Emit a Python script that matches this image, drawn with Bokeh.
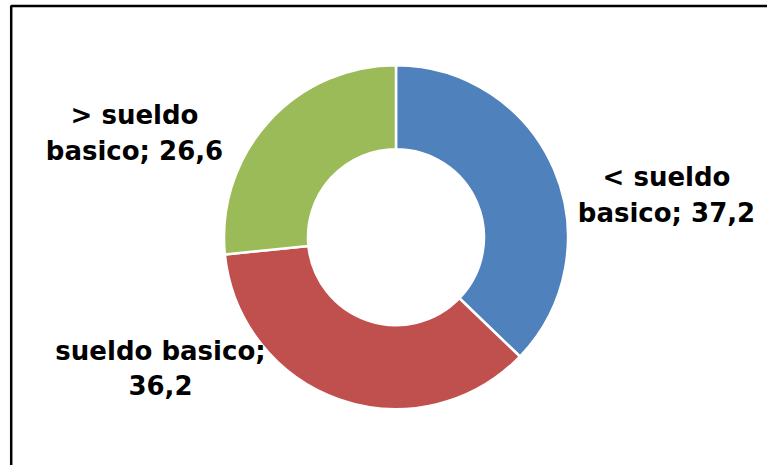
import numpy as np
from bokeh.plotting import figure
from bokeh.models import ColumnDataSource, Range1d
from bokeh.core.properties import value
from bokeh.embed import file_html
from bokeh.resources import INLINE

# ---- data ----
categories = ["< sueldo basico", "sueldo basico", "> sueldo basico"]
values = [37.2, 36.2, 26.6]
value_labels = ["37,2", "36,2", "26,6"]
colors = ["#4F81BD", "#C0504D", "#9BBB59"]

W, H = 767, 465
p = figure(width=W, height=H, output_backend="svg", toolbar_location=None,
           x_range=Range1d(0, W), y_range=Range1d(0, H),
           min_border=0, outline_line_color=None)
p.axis.visible = False
p.grid.visible = False
p.background_fill_color = "white"
p.border_fill_color = "white"

# chart border (only left and top edges are within view)
p.line(x=[10.7, 10.7, W], y=[0, H - 5.5, H - 5.5], line_color="black", line_width=2.5)

# donut
v = np.array(values)
frac = v / v.sum()
ends = np.pi / 2 - 2 * np.pi * np.cumsum(frac)
starts = np.concatenate([[np.pi / 2], ends[:-1]])
cx, cy = 395.5, H - 236.7
src = ColumnDataSource(dict(start=starts, end=ends, color=colors,
                            x=[cx] * 3, y=[cy] * 3))
p.annular_wedge(x="x", y="y", inner_radius=88, outer_radius=172,
                start_angle="end", end_angle="start", direction="anticlock",
                fill_color="color", line_color="white", line_width=2.5, source=src)

# labels (two lines each)
lines = []
for cat, vl in zip(categories, value_labels):
    if cat == "sueldo basico":
        lines.append(("sueldo basico;", vl))
    else:
        sym, rest = cat.split(" ", 1)
        w1, w2 = rest.split(" ")
        lines.append((f"{sym} {w1}", f"{w2}; {vl}"))

lab_x = [666, 160, 134]
lab_y1 = [H - 176, H - 350, H - 114]
lab_y2 = [H - 212, H - 384, H - 150]
tx, ty, tt = [], [], []
for (l1, l2), x, y1, y2 in zip(lines, lab_x, lab_y1, lab_y2):
    tx += [x, x]; ty += [y1, y2]; tt += [l1, l2]
p.text(x=tx, y=ty, text=tt, text_align="center", text_baseline="alphabetic",
       text_font=value("DejaVu Sans"), text_font_style="bold",
       text_font_size="26px", text_color="black")

open("out.html", "w").write(file_html(p, INLINE))
